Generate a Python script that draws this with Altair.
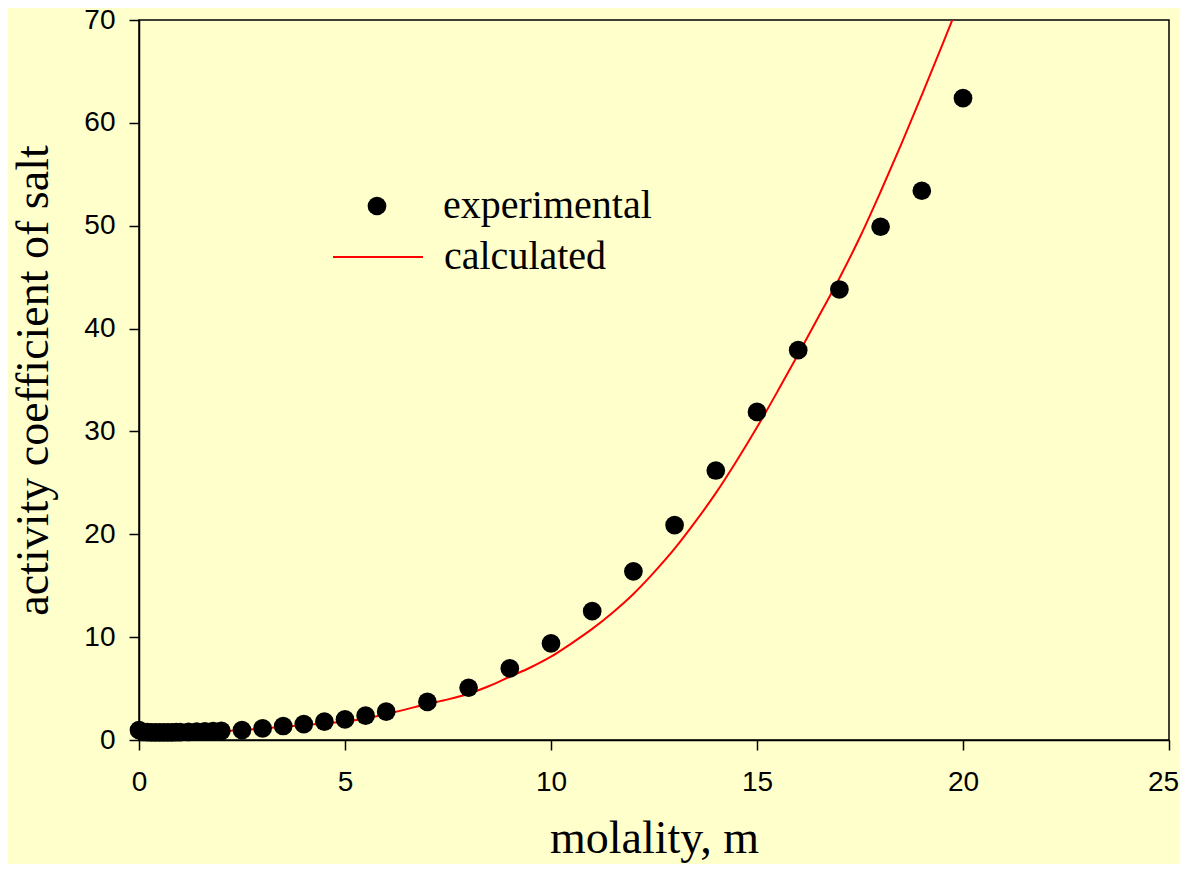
import altair as alt
import pandas as pd

# experimental points (molality, activity coefficient)
exp_x = [0.0, 0.1, 0.2, 0.3, 0.4, 0.5, 0.6, 0.7, 0.8, 0.9, 1.0,
         1.2, 1.4, 1.6, 1.8, 2.0,
         2.5, 3.0, 3.5, 4.0, 4.5, 5.0, 5.5, 6.0,
         7, 8, 9, 10, 11, 12, 13, 14, 15, 16, 17, 18, 19, 20]
exp_y = [0.97, 0.79, 0.76, 0.75, 0.74, 0.74, 0.74, 0.74, 0.75, 0.76, 0.77,
         0.79, 0.81, 0.83, 0.86, 0.89,
         0.97, 1.13, 1.36, 1.55, 1.78, 2.0, 2.36, 2.75,
         3.7, 5.08, 6.96, 9.39, 12.52, 16.4, 20.9, 26.2, 31.9, 37.9, 43.8, 49.9, 53.4, 62.4]

# calculated curve
calc_x = [0.0, 0.05, 0.1, 0.2, 0.4, 0.7, 1.0, 1.5, 2.0, 2.5, 3.0, 3.5, 4.0, 4.5, 5.0,
          5.5, 6.0, 6.5, 7.0, 7.5, 8.0, 8.5, 9.0, 9.5, 10.0, 10.5, 11.0, 11.5, 12.0,
          12.5, 13.0, 13.5, 14.0, 14.5, 15.0, 15.5, 16.0, 16.5, 17.0, 17.5, 18.0,
          18.5, 19.0, 19.5, 20.0]
calc_y = [0.97, 0.8, 0.72, 0.67, 0.65, 0.65, 0.67, 0.72, 0.82, 0.97, 1.12, 1.28, 1.45, 1.62, 1.8,
          2.1, 2.5, 3.0, 3.5, 3.95, 4.5, 5.25, 6.15, 7.05, 8.1, 9.4, 10.8, 12.4, 14.2,
          16.3, 18.6, 21.2, 24.0, 27.1, 30.4, 33.9, 37.5, 41.2, 44.9, 48.9, 53.3,
          57.9, 62.7, 67.6, 72.6]

x_ticks = [0, 5, 10, 15, 20, 25]
y_ticks = [0, 10, 20, 30, 40, 50, 60, 70]

exp_df = pd.DataFrame({"m": exp_x, "g": exp_y, "series": "experimental"})
calc_df = pd.DataFrame({"m": calc_x, "g": calc_y, "series": "calculated"})

x_enc = alt.X("m:Q", scale=alt.Scale(domain=[0, 25], nice=False),
              axis=alt.Axis(values=x_ticks, title="molality, m", labelFlush=False,
                            labelPadding=18, titlePadding=20,
                            labelOffset={"condition": {"test": "datum.value == 25", "value": -6},
                                         "value": 0}))
y_enc = alt.Y("g:Q", scale=alt.Scale(domain=[0, 70], nice=False),
              axis=alt.Axis(values=y_ticks, title="activity coefficient of salt",
                            labelPadding=14, titlePadding=26))

points = alt.Chart(exp_df).mark_circle(size=350, opacity=1).encode(
    x=x_enc, y=y_enc,
    color=alt.Color("series:N",
                    scale=alt.Scale(domain=["experimental"], range=["black"]),
                    legend=alt.Legend(orient="none", legendX=218, legendY=166, title=None,
                                      symbolType="circle", symbolSize=350,
                                      symbolStrokeWidth=0, symbolOpacity=1,
                                      labelFont="Liberation Serif", labelFontSize=40,
                                      labelColor="black", labelOffset=46, labelLimit=500,
                                      padding=0)),
)

line = alt.Chart(calc_df).mark_line(strokeWidth=2, clip=True, interpolate="monotone").encode(
    x=x_enc, y=y_enc,
    stroke=alt.Stroke("series:N",
                      scale=alt.Scale(domain=["calculated"], range=["red"]),
                      legend=alt.Legend(orient="none", legendX=193, legendY=191, title=None,
                                        symbolType="stroke", symbolSize=8100,
                                        symbolStrokeWidth=2,
                                        labelFont="Liberation Serif", labelFontSize=40,
                                        labelColor="black", labelOffset=20, labelLimit=500,
                                        padding=0)),
)

chart = alt.layer(line, points).properties(
    width=1030, height=720,
    background="#FFFFCC",
    padding={"left": 131, "top": 12, "right": 11, "bottom": 124},
    autosize=alt.AutoSizeParams(type="none"),
).configure_view(
    stroke="black", strokeWidth=1.5, fill="#FFFFCC"
).configure_axis(
    grid=False,
    domainColor="black", domainWidth=1.5,
    tickColor="black", tickWidth=1.5, tickSize=10,
    labelFont="Liberation Sans", labelFontSize=28, labelColor="black",
    titleFont="Liberation Serif", titleFontSize=46, titleFontWeight="normal",
    titleColor="black",
)

chart.save("out.html", embed_options={"renderer": "svg", "actions": False})
